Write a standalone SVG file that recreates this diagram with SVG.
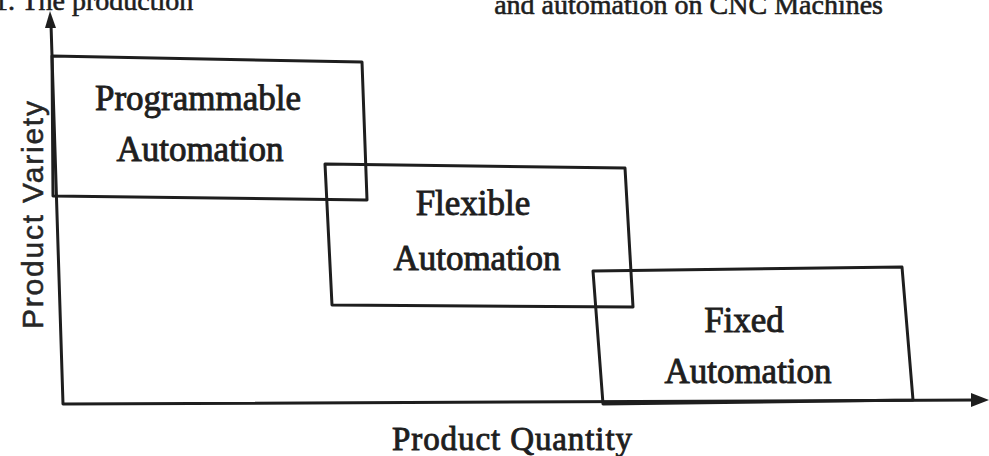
<svg xmlns="http://www.w3.org/2000/svg" width="989" height="456" viewBox="0 0 989 456">
  <style>
    .ln { fill: none; stroke: #1e1e1e; stroke-width: 3; stroke-linejoin: round; }
    .lbl { font-family: "Liberation Serif", "Times New Roman", serif; font-size: 35px; fill: #1e1e1e; text-anchor: middle; stroke: #1e1e1e; stroke-width: 0.9; }
    .ax { font-family: "Liberation Serif", "Times New Roman", serif; font-size: 33px; fill: #1e1e1e; stroke: #1e1e1e; stroke-width: 0.9; }
    .axs { font-family: "Liberation Sans", Arial, sans-serif; font-size: 30px; fill: #262626; text-anchor: middle; stroke: #262626; stroke-width: 0.5; }
    .hdr { font-family: "Liberation Serif", "Times New Roman", serif; font-size: 28px; fill: #1e1e1e; stroke: #1e1e1e; stroke-width: 0.6; }
  </style>
  <rect width="989" height="456" fill="#ffffff"/>

  <!-- running header, clipped by the top edge -->
  <text class="hdr" x="-6" y="10">1. The production</text>
  <text class="hdr" x="883" y="14" text-anchor="end">and automation on CNC Machines</text>

  <!-- axes -->
  <g id="axes">
    <polyline class="ln" points="51,24 63,404 978,400"/>
    <polygon points="50,11 45,28 56,28" fill="#1e1e1e"/>
    <polygon points="989,400 971,393 971,407" fill="#1e1e1e"/>
    <text class="ax" x="512" y="450" text-anchor="middle" textLength="240">Product Quantity</text>
    <text class="axs" transform="translate(43,215) rotate(-90)" textLength="228">Product Variety</text>
  </g>

  <g id="programmable">
    <polygon class="ln" points="52,56 362,62 367,200 53,196"/>
    <text class="lbl" x="198" y="110">Programmable</text>
    <text class="lbl" x="200" y="161">Automation</text>
  </g>

  <g id="flexible">
    <polygon class="ln" points="325,164 625,168 633,307 332,305"/>
    <text class="lbl" x="473" y="215">Flexible</text>
    <text class="lbl" x="477" y="270">Automation</text>
  </g>

  <g id="fixed">
    <polygon class="ln" points="593,271 902,267 913,400 603,404"/>
    <text class="lbl" x="744" y="332">Fixed</text>
    <text class="lbl" x="748" y="383">Automation</text>
  </g>
</svg>
